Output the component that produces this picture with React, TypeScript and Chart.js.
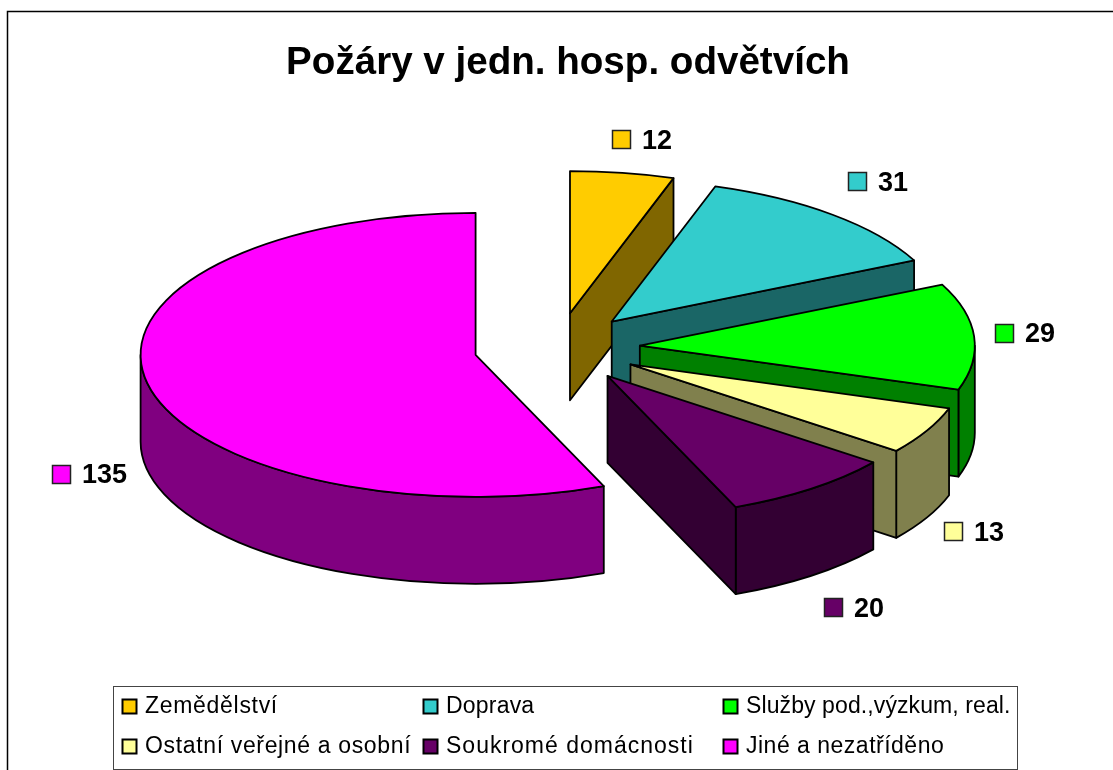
import React, { useEffect, useRef } from "react";
import { Chart, registerables, PieController } from "chart.js";

Chart.register(...registerables);

const chartTitle = "Požáry v jedn. hosp. odvětvích";
const categories = [
  "Zemědělství",
  "Doprava",
  "Služby pod.,výzkum, real.",
  "Ostatní veřejné a osobní",
  "Soukromé domácnosti",
  "Jiné a nezatříděno",
];
const values = [12, 31, 29, 13, 20, 135];
const topColors = ["#FFCC00", "#33CCCC", "#00FF00", "#FFFF99", "#660066", "#FF00FF"];
const wallColors = ["#806600", "#1A6666", "#008000", "#80804D", "#330033", "#800080"];

// Projection of the tilted pie
const PIE_X = 557;
const PIE_Y = 348;
const RADIUS = 335;
const SQUASH = 0.424;
const DEPTH = 87;
const EXPLODE = 83;
const LABEL_REACH_X = [545, 487, 469, 471, 488, 477];
const LABEL_REACH_Y = [496, 520, 505, 492, 515, 484];
const LEGEND_TRACKING = [0.7, 0.2, 0.1, 0.65, 1, 0.5];
const LINE = 1.8;

const FONT = '"Liberation Sans", Arial, sans-serif';

function apexOf(arc: any) {
  const mid = (arc.startAngle + arc.endAngle) / 2;
  return {
    x: PIE_X + Math.cos(mid) * EXPLODE,
    y: PIE_Y + Math.sin(mid) * EXPLODE * SQUASH,
  };
}

function rim(p: { x: number; y: number }, a: number) {
  return { x: p.x + Math.cos(a) * RADIUS, y: p.y + Math.sin(a) * RADIUS * SQUASH };
}

function cutFace(ctx: CanvasRenderingContext2D, p: { x: number; y: number }, a: number) {
  const r = rim(p, a);
  ctx.beginPath();
  ctx.moveTo(p.x, p.y);
  ctx.lineTo(r.x, r.y);
  ctx.lineTo(r.x, r.y + DEPTH);
  ctx.lineTo(p.x, p.y + DEPTH);
  ctx.closePath();
  ctx.fill();
  ctx.stroke();
}

class Pie3DController extends PieController {
  static id = "pie3d";

  draw() {
    const ctx: CanvasRenderingContext2D = this.chart.ctx;
    const arcs: any[] = this._cachedMeta.data as any[];
    ctx.save();
    ctx.lineWidth = LINE;
    ctx.strokeStyle = "#000";
    ctx.lineJoin = "round";

    // extruded walls first, back to front
    arcs.forEach((arc, i) => {
      const p = apexOf(arc);
      const { startAngle: s, endAngle: e } = arc;
      ctx.fillStyle = wallColors[i];
      if (Math.sin(s - Math.PI / 2) > 0.001) cutFace(ctx, p, s);
      const a0 = Math.max(s, 0);
      const a1 = Math.min(e, Math.PI);
      if (a1 > a0) {
        const r0 = rim(p, a0);
        const r1 = rim(p, a1);
        ctx.beginPath();
        ctx.ellipse(p.x, p.y, RADIUS, RADIUS * SQUASH, 0, a0, a1);
        ctx.lineTo(r1.x, r1.y + DEPTH);
        ctx.ellipse(p.x, p.y + DEPTH, RADIUS, RADIUS * SQUASH, 0, a1, a0, true);
        ctx.lineTo(r0.x, r0.y);
        ctx.closePath();
        ctx.fill();
        ctx.stroke();
      }
      if (Math.sin(e + Math.PI / 2) > 0.001) cutFace(ctx, p, e);
    });

    // top faces, drawn by the library's arc element under the tilt
    arcs.forEach((arc) => {
      const p = apexOf(arc);
      ctx.save();
      ctx.translate(p.x, p.y);
      ctx.scale(1, SQUASH);
      ctx.translate(-arc.x, -arc.y);
      arc.draw(ctx);
      ctx.restore();
      ctx.beginPath();
      ctx.moveTo(p.x, p.y);
      ctx.ellipse(p.x, p.y, RADIUS, RADIUS * SQUASH, 0, arc.startAngle, arc.endAngle);
      ctx.closePath();
      ctx.stroke();
    });
    ctx.restore();
  }
}
Chart.register(Pie3DController);

const decorations = {
  id: "decorations",
  afterDraw(chart: any) {
    const ctx: CanvasRenderingContext2D = chart.ctx;
    const arcs = chart.getDatasetMeta(0).data;
    const swatch = (x: number, y: number, size: number, color: string, lw: number, stroke: string) => {
      ctx.fillStyle = color;
      ctx.fillRect(x, y, size, size);
      ctx.lineWidth = lw;
      ctx.strokeStyle = stroke;
      ctx.strokeRect(x, y, size, size);
    };
    ctx.save();

    // outer chart frame
    ctx.strokeStyle = "#000";
    ctx.lineWidth = 1.5;
    ctx.strokeRect(7.5, 11.5, 1121, 900);

    // value labels
    ctx.textBaseline = "middle";
    ctx.textAlign = "left";
    arcs.forEach((arc: any, i: number) => {
      const mid = (arc.startAngle + arc.endAngle) / 2;
      const cx = PIE_X + Math.cos(mid) * LABEL_REACH_X[i];
      let cy = PIE_Y + Math.sin(mid) * LABEL_REACH_Y[i] * SQUASH;
      if (Math.sin(mid) > 0.05) cy += DEPTH;
      const text = String(values[i]);
      ctx.font = `bold 27px ${FONT}`;
      const tw = ctx.measureText(text).width;
      const total = 19 + 11 + tw;
      const x0 = Math.round(cx - total / 2);
      swatch(x0 + 0.5, Math.round(cy) - 9.5, 18, topColors[i], 1.5, "#222");
      ctx.fillStyle = "#000";
      ctx.fillText(text, x0 + 30, cy + 1);
    });

    // legend box
    ctx.fillStyle = "#fff";
    ctx.fillRect(113.5, 686.5, 904, 83);
    ctx.strokeStyle = "#444";
    ctx.lineWidth = 1;
    ctx.strokeRect(113.5, 686.5, 904, 83);
    const columns = [122, 423, 723];
    const rows = [699, 739];
    ctx.font = `23px ${FONT}`;
    categories.forEach((name, i) => {
      const x = columns[i % 3];
      const y = rows[Math.floor(i / 3)];
      swatch(x + 0.5, y + 0.5, 14, topColors[i], 2, "#000");
      ctx.fillStyle = "#000";
      (ctx as any).letterSpacing = `${LEGEND_TRACKING[i]}px`;
      ctx.fillText(name, x + 23, y + 7.5);
    });
    (ctx as any).letterSpacing = "0px";
    ctx.restore();
  },
};

export default function App() {
  const ref = useRef<HTMLCanvasElement>(null);
  useEffect(() => {
    const chart = new Chart(ref.current as HTMLCanvasElement, {
      type: "pie3d" as any,
      data: {
        labels: categories,
        datasets: [
          {
            data: values,
            backgroundColor: topColors,
            borderWidth: 0,
            clip: false,
          } as any,
        ],
      },
      options: {
        responsive: false,
        animation: false,
        events: [],
        radius: RADIUS,
        plugins: {
          legend: { display: false },
          tooltip: { enabled: false },
          title: {
            display: true,
            text: chartTitle,
            color: "#000",
            font: { family: FONT, size: 38.6, weight: "bold" },
            padding: { top: 40, bottom: 0 },
          },
        },
      } as any,
      plugins: [decorations],
    });
    return () => chart.destroy();
  }, []);
  return (
    <div style={{ position: "absolute", left: 0, top: 0, width: 1113, height: 770, overflow: "hidden", background: "#fff" }}>
      <canvas ref={ref} width={1136} height={800} style={{ display: "block" }} />
    </div>
  );
}
